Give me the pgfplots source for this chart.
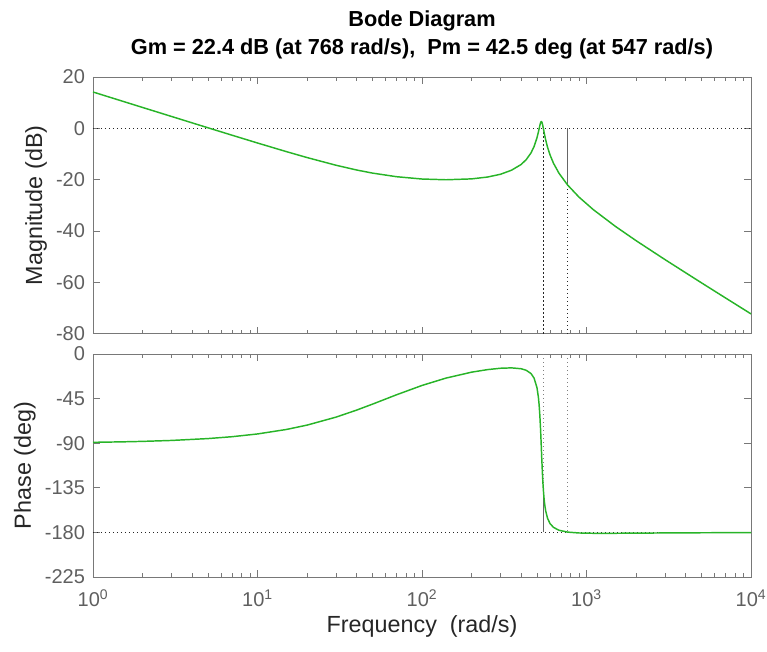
\documentclass[border=0pt]{standalone}
\usepackage{fontspec}
\setmainfont{Liberation Sans}
\usepackage{pgfplots}
\pgfplotsset{compat=1.18}
\usepackage{pgfplotstable}
\usetikzlibrary{calc}
\definecolor{bgreen}{RGB}{40,180,40}
\definecolor{axgray}{RGB}{120,120,120}
\definecolor{ticktext}{RGB}{95,95,95}
\definecolor{labeltext}{RGB}{38,38,38}

\pgfplotstableread{
w mag ph
1 14.15 -89.05
1.5 10.63 -88.58
2 8.13 -88.10
3 4.62 -87.16
5 0.20 -85.27
7 -2.69 -83.39
10 -5.73 -80.61
15 -9.10 -76.07
20 -11.40 -71.70
30 -14.40 -63.64
40 -16.25 -56.58
50 -17.46 -50.54
70 -18.87 -41.09
100 -19.77 -31.67
140 -20.06 -24.23
200 -19.72 -18.29
250 -19.00 -15.69
300 -17.92 -14.31
350 -16.34 -13.94
400 -14.13 -14.79
430 -12.22 -16.35
460 -9.58 -19.69
480 -7.13 -24.23
500 -3.70 -33.89
510 -1.46 -43.60
515 -0.23 -50.96
520 0.99 -60.83
525 2.02 -73.84
527.5 2.37 -81.49
530 2.57 -89.68
532.5 2.59 -98.13
535 2.42 -106.47
537.5 2.07 -114.35
540 1.60 -121.56
543 0.91 -129.16
547 -0.12 -137.52
551 -1.18 -144.12
555 -2.22 -149.34
560 -3.44 -154.41
565 -4.56 -158.30
580 -7.43 -165.78
600 -10.35 -170.98
630 -13.62 -174.87
680 -17.49 -177.75
768 -22.12 -179.64
900 -26.81 -180.52
1100 -31.71 -180.83
1500 -38.25 -180.82
2000 -43.78 -180.68
3000 -51.18 -180.48
5000 -60.24 -180.30
7000 -66.13 -180.23
10000 -72.35 -180.15
}\bode

\tikzset{
  dotline/.style={black!85, line width=0.9pt, dash pattern=on 0.9pt off 2.1pt},
  dotgray/.style={black!50, line width=0.9pt, dash pattern=on 0.9pt off 2.1pt},
  bcurve/.style={bgreen, line width=1.1pt},
}

\begin{document}
\begin{tikzpicture}
\begin{axis}[name=top,
  scale only axis, width=493.5pt, height=192.4pt,
  xmode=log, xmin=1, xmax=10000,
  xtick={1,10,100,1000,10000},
  axis line style={axgray, line width=0.6pt},
  every tick/.style={axgray, line width=0.6pt},
  major tick length=5pt, minor tick length=2.8pt,
  tick align=inside,
  tick label style={font=\fontsize{15}{15}\selectfont, text=ticktext},
  yticklabel style={xshift=-2.5pt},
  label style={font=\fontsize{17.5}{17.5}\selectfont, text=labeltext},
  ymin=-80, ymax=20, ytick={-80,-60,-40,-20,0,20},
  yticklabels={-80,-60,-40,-20,0,20},
  xticklabels={}, ylabel={Magnitude (dB)}]
\addplot[dotline] coordinates {(1,0) (10000,0)};
\addplot[dotline] coordinates {(547,0) (547,-80)};
\addplot[dotline] coordinates {(768,-22.12) (768,-80)};
\addplot[black!60, line width=1.2pt] coordinates {(768,0) (768,-22.12)};
\addplot[bcurve] table[x=w, y=mag] {\bode};
\end{axis}
\begin{axis}[name=bot, at={($(top.south west)+(0,-15.4pt)$)}, anchor=north west,
  scale only axis, width=493.5pt, height=167.25pt,
  xmode=log, xmin=1, xmax=10000,
  xtick={1,10,100,1000,10000},
  axis line style={axgray, line width=0.6pt},
  every tick/.style={axgray, line width=0.6pt},
  major tick length=5pt, minor tick length=2.8pt,
  tick align=inside,
  tick label style={font=\fontsize{15}{15}\selectfont, text=ticktext},
  yticklabel style={xshift=-2.5pt},
  label style={font=\fontsize{17.5}{17.5}\selectfont, text=labeltext},
  ymin=-225, ymax=0, ytick={-225,-180,-135,-90,-45,0},
  yticklabels={-225,-180,-135,-90,-45,0},
  xticklabels={10\textsuperscript{0},10\textsuperscript{1},10\textsuperscript{2},10\textsuperscript{3},10\textsuperscript{4}},
  xticklabel style={yshift=-6pt},
  xlabel={Frequency\ \ (rad/s)}, ylabel={Phase (deg)}]
\addplot[dotline] coordinates {(1,-180) (10000,-180)};
\addplot[dotgray] coordinates {(547,0) (547,-137.52)};
\addplot[dotgray] coordinates {(768,0) (768,-180)};
\addplot[black!60, line width=1.2pt] coordinates {(547,-180) (547,-137.52)};
\addplot[bcurve] table[x=w, y=ph] {\bode};
\end{axis}
\node[anchor=base, font=\bfseries\fontsize{16.3}{16.3}\selectfont] at ($(top.north)+(0,16.5pt)$)
  {Gm = 22.4 dB (at 768 rad/s),\ \ Pm = 42.5 deg (at 547 rad/s)};
\node[anchor=base, font=\bfseries\fontsize{16.3}{16.3}\selectfont] at ($(top.north)+(0,38pt)$)
  {Bode Diagram};
\pgfresetboundingbox
\path ($(top.north west)+(-69.75pt,57.75pt)$) rectangle ($(top.north west)+(505.5pt,-431.25pt)$);
\end{tikzpicture}
\end{document}
